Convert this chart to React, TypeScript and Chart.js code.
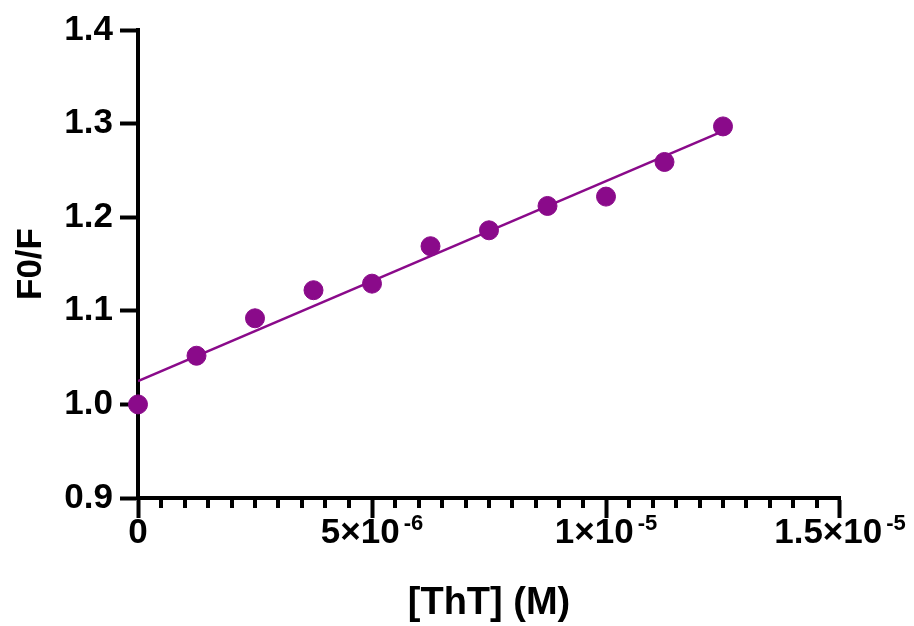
import React, { useEffect, useRef } from 'react';
import { Chart, registerables } from 'chart.js';

Chart.register(...registerables);

// [ThT] concentration (M)
const concentrations = [0, 1.25e-6, 2.5e-6, 3.75e-6, 5e-6, 6.25e-6, 7.5e-6, 8.75e-6, 1e-5, 1.125e-5, 1.25e-5];
// F0/F ratio
const f0OverF = [1.0, 1.052, 1.092, 1.122, 1.129, 1.169, 1.186, 1.212, 1.222, 1.259, 1.297];
// linear fit end points
const fitX = [0, 1.25e-5];
const fitY = [1.025, 1.292];

// x tick labels: mantissa part and superscript exponent
const xMajorBases = ['0', '5×10', '1×10', '1.5×10'];
const xMajorExponents = ['', '-6', '-5', '-5'];
const xMinorStep = 5e-7;
const xMinorCount = 31;

const PURPLE = '#8A0A8A';
const FONT = "'Liberation Sans', Arial, Helvetica, sans-serif";

const axisDecorPlugin = {
  id: 'axisDecor',
  afterDraw(chart: any) {
    const sx = chart.scales.x;
    const ctx = chart.ctx;
    ctx.save();
    // minor ticks
    ctx.strokeStyle = '#000';
    ctx.lineWidth = 4;
    sx.ticks.forEach((t: any, i: number) => {
      if (i % 10 === 0) return;
      const px = Math.round(sx.getPixelForValue(t.value));
      ctx.beginPath();
      ctx.moveTo(px, sx.top);
      ctx.lineTo(px, sx.top + 10);
      ctx.stroke();
    });
    // major tick labels with superscript exponents
    ctx.fillStyle = '#000';
    ctx.textBaseline = 'alphabetic';
    ctx.textAlign = 'left';
    const baseFont = `bold 35px ${FONT}`;
    const supFont = `bold 22px ${FONT}`;
    const baseline = sx.top + 45;
    sx.ticks.forEach((t: any, i: number) => {
      if (i % 10 !== 0) return;
      const k = i / 10;
      const base = xMajorBases[k];
      const exp = xMajorExponents[k];
      ctx.font = baseFont;
      const wb = ctx.measureText(base).width;
      ctx.font = supFont;
      const gap = exp ? 4 : 0;
      const we = exp ? ctx.measureText(exp).width : 0;
      const total = wb + gap + we;
      const px = sx.getPixelForValue(t.value);
      const x0 = px - total / 2;
      ctx.font = baseFont;
      ctx.fillText(base, x0, baseline);
      if (exp) {
        ctx.font = supFont;
        ctx.fillText(exp, x0 + wb + gap, baseline - 13);
      }
    });
    ctx.restore();
  },
};

export default function App() {
  const ref = useRef<HTMLCanvasElement>(null);

  useEffect(() => {
    document.body.style.margin = '0';
    const canvas = ref.current;
    if (!canvas) return;
    const chart = new Chart(canvas, {
      type: 'scatter',
      data: {
        datasets: [
          {
            type: 'line',
            label: 'Fit',
            data: fitX.map((x, i) => ({ x, y: fitY[i] })),
            borderColor: PURPLE,
            borderWidth: 2.5,
            pointRadius: 0,
            fill: false,
            order: 2,
          } as any,
          {
            type: 'scatter',
            label: 'F0/F',
            data: concentrations.map((x, i) => ({ x, y: f0OverF[i] })),
            backgroundColor: PURPLE,
            borderColor: PURPLE,
            borderWidth: 1,
            pointRadius: 9.5,
            clip: false,
            order: 1,
          } as any,
        ],
      },
      options: {
        animation: false,
        responsive: false,
        devicePixelRatio: 1,
        layout: { padding: { left: 0, top: 30, right: 74, bottom: 0 } },
        plugins: { legend: { display: false }, tooltip: { enabled: false } },
        scales: {
          x: {
            type: 'linear',
            min: 0,
            max: 1.5e-5,
            afterBuildTicks: (scale: any) => {
              scale.ticks = Array.from({ length: xMinorCount }, (_, i) => ({ value: i * xMinorStep }));
            },
            afterFit: (scale: any) => {
              scale.height = 128;
            },
            border: { display: true, color: '#000', width: 4 },
            grid: {
              display: true,
              drawOnChartArea: false,
              drawTicks: true,
              tickLength: 20,
              tickWidth: 4,
              tickColor: (ctx: any) => (ctx.index % 10 === 0 ? '#000' : 'rgba(0,0,0,0)'),
            },
            ticks: {
              autoSkip: false,
              maxRotation: 0,
              minRotation: 0,
              padding: 0,
              callback: () => '',
            },
            title: {
              display: true,
              text: '[ThT] (M)',
              color: '#000',
              font: { family: FONT, size: 38, weight: 'bold' },
              padding: { top: 0, bottom: 0 },
            },
          },
          y: {
            type: 'linear',
            min: 0.9,
            max: 1.4,
            afterFit: (scale: any) => {
              scale.width = 138;
            },
            border: { display: true, color: '#000', width: 4 },
            grid: {
              display: true,
              drawOnChartArea: false,
              drawTicks: true,
              tickLength: 18,
              tickWidth: 4,
              tickColor: '#000',
            },
            ticks: {
              stepSize: 0.1,
              padding: 7,
              color: '#000',
              font: { family: FONT, size: 35, weight: 'bold' },
              callback: (v: any) => Number(v).toFixed(1),
            },
            title: {
              display: true,
              text: 'F0/F',
              color: '#000',
              font: { family: FONT, size: 35, weight: 'bold' },
              padding: { top: 10, bottom: 0 },
            },
          },
        },
      },
      plugins: [axisDecorPlugin],
    });
    return () => chart.destroy();
  }, []);

  return (
    <div style={{ width: 914, height: 626, position: 'relative' }}>
      <canvas ref={ref} width={914} height={626} style={{ display: 'block' }} />
    </div>
  );
}
